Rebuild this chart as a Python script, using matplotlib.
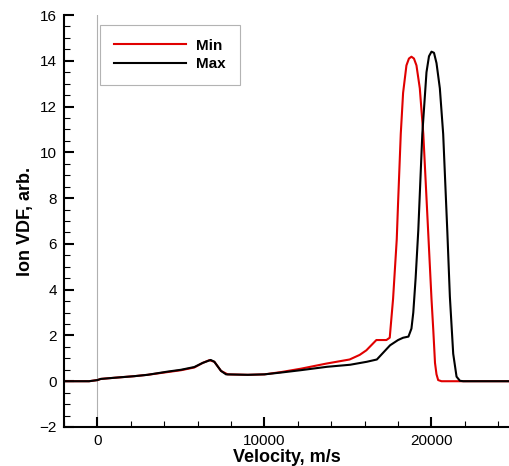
import matplotlib.pyplot as plt

# Velocity (m/s) and ion VDF values
vel_min = [-2000, -500, 0, 200, 1000, 2200, 3000, 4200, 5000, 5800, 6300, 6700, 7000,
           7400, 7800, 9000, 10000, 11000, 12200, 13700, 15100, 15700, 16100, 16700,
           17300, 17500, 17700, 17920, 18000, 18160, 18300, 18500, 18650, 18800, 18950,
           19100, 19300, 19510, 19810, 20000, 20110, 20210, 20300, 20400, 20600, 24700]
vdf_min = [0, 0, 0.05, 0.1, 0.15, 0.22, 0.28, 0.4, 0.48, 0.6, 0.8, 0.92, 0.85,
           0.45, 0.3, 0.28, 0.3, 0.4, 0.55, 0.77, 0.95, 1.15, 1.35, 1.8,
           1.8, 1.9, 3.6, 6.2, 7.8, 10.8, 12.6, 13.8, 14.1, 14.18, 14.1,
           13.8, 12.8, 10.8, 6.4, 3.6, 2.2, 0.8, 0.3, 0.05, 0, 0]

vel_max = [-2000, -500, 0, 200, 1000, 2200, 3000, 4200, 5000, 5800, 6300, 6780, 7000,
           7400, 7700, 9000, 10000, 11000, 12150, 13740, 15130, 16130, 16730, 17520,
           18000, 18300, 18620, 18800, 18910, 19050, 19210, 19450, 19700, 19850, 20000,
           20150, 20300, 20500, 20700, 20950, 21100, 21300, 21500, 21700, 21900, 24700]
vdf_max = [0, 0, 0.05, 0.1, 0.15, 0.22, 0.28, 0.42, 0.5, 0.62, 0.8, 0.93, 0.85,
           0.45, 0.3, 0.28, 0.3, 0.38, 0.48, 0.63, 0.72, 0.85, 0.95, 1.57,
           1.8, 1.9, 1.95, 2.3, 3.0, 4.5, 6.6, 10.8, 13.5, 14.2, 14.4,
           14.35, 13.9, 12.8, 10.8, 6.5, 3.7, 1.2, 0.2, 0.02, 0, 0]

plt.rcParams["font.family"] = ["Liberation Sans", "DejaVu Sans"]

fig = plt.figure(figsize=(5.1, 4.66), dpi=100)
ax = fig.add_axes([0.1255, 0.0837, 0.8745, 0.884])

ax.axvline(0, color="#b0b0b0", linewidth=0.8, zorder=0)
ax.plot(vel_min, vdf_min, color="#e00000", linewidth=1.5, label="Min")
ax.plot(vel_max, vdf_max, color="black", linewidth=1.5, label="Max")

ax.set_xlim(-2000, 24700)
ax.set_ylim(-2, 16)
ax.set_xticks([0, 10000, 20000])
ax.set_xticks(range(-2000, 25000, 2000), minor=True)
ax.set_yticks(range(-2, 17, 2))
ax.set_yticks([v / 2 for v in range(-4, 33)], minor=True)

for side in ["top", "right"]:
    ax.spines[side].set_visible(False)
for side in ["left", "bottom"]:
    ax.spines[side].set_linewidth(1.5)

ax.tick_params(which="major", direction="in", length=7, width=1.5, labelsize=11, pad=5)
ax.tick_params(which="minor", direction="in", length=4, width=0.8)

ax.set_xlabel("Velocity, m/s", fontsize=13, fontweight="bold", labelpad=1)
ax.set_ylabel("Ion VDF, arb.", fontsize=13, fontweight="bold", labelpad=4)

# legend box near the top-left corner, square gray frame
leg = ax.legend(loc="upper left", bbox_to_anchor=(0.081, 0.976), borderaxespad=0,
                fancybox=False, frameon=True, handlelength=4.7, handletextpad=0.7,
                borderpad=0.9, labelspacing=0.3, prop={"weight": "bold", "size": 11})
leg.get_frame().set_edgecolor("#a0a0a0")
leg.get_frame().set_linewidth(0.8)

plt.savefig("out.png", dpi=100)
